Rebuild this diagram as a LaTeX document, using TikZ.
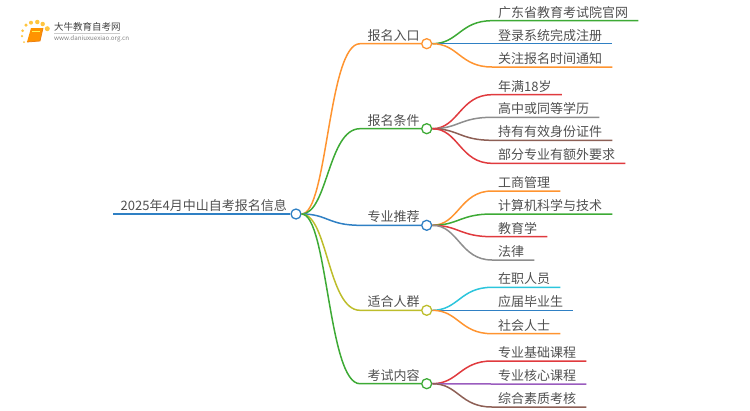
\documentclass[tikz,border=0pt]{standalone}
\usepackage{fontspec}
\setmainfont{Noto Sans CJK SC}
\definecolor{mapblue}{HTML}{2F80C4}
\definecolor{maporange}{HTML}{FF9430}
\definecolor{mapgreen}{HTML}{3DAA35}
\definecolor{mapred}{HTML}{E03A3E}
\definecolor{mapgray}{HTML}{8E8E8E}
\definecolor{mapbrown}{HTML}{8D5F55}
\definecolor{mapolive}{HTML}{BDBD2B}
\definecolor{mapcyan}{HTML}{2CC5DC}
\definecolor{mappurple}{HTML}{9A5CBE}
\definecolor{maptext}{HTML}{505050}
\tikzset{
  link/.style={line width=1.5pt},
  roottext/.style={anchor=south west,inner xsep=7.5pt,inner ysep=1.5pt,text height=11pt,text depth=2pt,font=\fontsize{13pt}{13pt}\selectfont,text=maptext},
  branchtext/.style={roottext},
  leaftext/.style={roottext,inner xsep=6pt,execute at end node={\kern4pt}},
  dot/.style={circle,draw,fill=white,line width=1.3pt,minimum size=10pt,inner sep=0pt},
  sun/.style={circle,fill=orange!60!yellow,opacity=0.75,inner sep=0pt},
}
\begin{document}
\begin{tikzpicture}[x=1pt,y=-1pt]
  % Constants
  \pgfmathsetmacro\c{26}
  \pgfmathsetmacro\d{32}
  \pgfmathsetmacro\m{426.7}
  \pgfmathsetmacro\n{492}
  % Boundary
  \path[use as bounding box] (0,0) rectangle (750,410);
  % Logo
  \fill[orange!85!yellow] (31,28) -- (43,28) -- (40,41) -- (27,42) -- cycle;
  \draw[orange!70!brown,line width=0.8pt] (27,42) -- (40,41) -- (43,28);
  \draw[yellow!70!white,line width=0.7pt] (32,31) -- (40,31);
  \node[sun,minimum size=2pt] (sun1) at (24,42) {};
  \node[sun,minimum size=2.5pt] (sun2) at (22,36) {};
  \node[sun,minimum size=3pt] (sun3) at (22.7,30.7) {};
  \node[sun,minimum size=3.5pt] (sun4) at (26,25) {};
  \node[sun,minimum size=4pt] (sun5) at (31,22.7) {};
  \node[sun,minimum size=4.5pt] (sun6) at (37.3,22) {};
  \node[sun,minimum size=4.5pt] (sun7) at (42.7,24) {};
  \node[sun,minimum size=5pt] (sun8) at (47.3,28.7) {};
  \node[anchor=west,inner sep=0pt,text=black!75,font=\fontsize{9.5pt}{9.5pt}\selectfont] (logoname) at (54,27) {大牛教育自考网};
  \node[anchor=west,inner sep=0pt,text=black!50,font=\fontsize{6.2pt}{6.2pt}\selectfont] (logourl) at (54,38.5) {www.daniuxuexiao.org.cn};
  \draw[black!20,line width=0.6pt] (logoname.south west) ++(0,1.5) -- ++(66,0);
  % Root
  \node[roottext] (root) at (113,214) {2025年4月中山自考报名信息};
  \node[dot,draw=mapblue] (rootdot) at (296,214) {};
  \draw[mapblue,link] (root.south west) -- (rootdot);
  % Branches
  \node[branchtext] (entry) at (360,43.7) {报名入口};
  \node[branchtext] (terms) at (360,128.7) {报名条件};
  \node[branchtext] (majors) at (360,225.3) {专业推荐};
  \node[branchtext] (people) at (360,310.3) {适合人群};
  \node[branchtext] (exam) at (360,383.7) {考试内容};
  \node[dot,draw=maporange] (entrydot) at (\m,43.7) {};
  \node[dot,draw=mapgreen] (termsdot) at (\m,128.7) {};
  \node[dot,draw=mapblue] (majorsdot) at (\m,225.3) {};
  \node[dot,draw=mapolive] (peopledot) at (\m,310.3) {};
  \node[dot,draw=mapgreen] (examdot) at (\m,383.7) {};
  \draw[maporange,link] (rootdot.east) .. controls +(\c,0) and +(-\d,0) .. (entry.south west) -- (entrydot);
  \draw[mapgreen,link] (rootdot.east) .. controls +(\c,0) and +(-\d,0) .. (terms.south west) -- (termsdot);
  \draw[mapblue,link] (rootdot.east) .. controls +(\c,0) and +(-\d,0) .. (majors.south west) -- (majorsdot);
  \draw[mapolive,link] (rootdot.east) .. controls +(\c,0) and +(-\d,0) .. (people.south west) -- (peopledot);
  \draw[mapgreen,link] (rootdot.east) .. controls +(\c,0) and +(-\d,0) .. (exam.south west) -- (examdot);
  % Leaves of the first branch
  \node[leaftext] (entry1) at (\n,20.7) {广东省教育考试院官网};
  \node[leaftext] (entry2) at (\n,43.7) {登录系统完成注册};
  \node[leaftext] (entry3) at (\n,67) {关注报名时间通知};
  \draw[mapgreen,link] (entrydot.east) .. controls +(\c,0) and +(-\d,0) .. (entry1.south west) -- (entry1.south east);
  \draw[mapblue,link] (entrydot.east) -- (entry2.south west) -- (entry2.south east);
  \draw[maporange,link] (entrydot.east) .. controls +(\c,0) and +(-\d,0) .. (entry3.south west) -- (entry3.south east);
  % Leaves of the second branch
  \node[leaftext] (terms1) at (\n,94.7) {年满18岁};
  \node[leaftext] (terms2) at (\n,117.3) {高中或同等学历};
  \node[leaftext] (terms3) at (\n,140.3) {持有有效身份证件};
  \node[leaftext] (terms4) at (\n,163.3) {部分专业有额外要求};
  \draw[mapred,link] (termsdot.east) .. controls +(\c,0) and +(-\d,0) .. (terms1.south west) -- (terms1.south east);
  \draw[mapgray,link] (termsdot.east) .. controls +(\c,0) and +(-\d,0) .. (terms2.south west) -- (terms2.south east);
  \draw[mapbrown,link] (termsdot.east) .. controls +(\c,0) and +(-\d,0) .. (terms3.south west) -- (terms3.south east);
  \draw[mapred,link] (termsdot.east) .. controls +(\c,0) and +(-\d,0) .. (terms4.south west) -- (terms4.south east);
  % Leaves of the third branch
  \node[leaftext] (majors1) at (\n,191) {工商管理};
  \node[leaftext] (majors2) at (\n,214) {计算机科学与技术};
  \node[leaftext] (majors3) at (\n,236.7) {教育学};
  \node[leaftext] (majors4) at (\n,260) {法律};
  \draw[maporange,link] (majorsdot.east) .. controls +(\c,0) and +(-\d,0) .. (majors1.south west) -- (majors1.south east);
  \draw[mapgreen,link] (majorsdot.east) .. controls +(\c,0) and +(-\d,0) .. (majors2.south west) -- (majors2.south east);
  \draw[mapred,link] (majorsdot.east) .. controls +(\c,0) and +(-\d,0) .. (majors3.south west) -- (majors3.south east);
  \draw[mapgray,link] (majorsdot.east) .. controls +(\c,0) and +(-\d,0) .. (majors4.south west) -- (majors4.south east);
  % Leaves of the fourth branch
  \node[leaftext] (people1) at (\n,287.3) {在职人员};
  \node[leaftext] (people2) at (\n,310.3) {应届毕业生};
  \node[leaftext] (people3) at (\n,333.7) {社会人士};
  \draw[mapcyan,link] (peopledot.east) .. controls +(\c,0) and +(-\d,0) .. (people1.south west) -- (people1.south east);
  \draw[mapblue,link] (peopledot.east) -- (people2.south west) -- (people2.south east);
  \draw[maporange,link] (peopledot.east) .. controls +(\c,0) and +(-\d,0) .. (people3.south west) -- (people3.south east);
  % Leaves of the fifth branch
  \node[leaftext] (exam1) at (\n,361) {专业基础课程};
  \node[leaftext] (exam2) at (\n,384) {专业核心课程};
  \node[leaftext] (exam3) at (\n,407) {综合素质考核};
  \draw[mapred,link] (examdot.east) .. controls +(\c,0) and +(-\d,0) .. (exam1.south west) -- (exam1.south east);
  \draw[mappurple,link] (examdot.east) -- (exam2.south west) -- (exam2.south east);
  \draw[mapbrown,link] (examdot.east) .. controls +(\c,0) and +(-\d,0) .. (exam3.south west) -- (exam3.south east);
\end{tikzpicture}
\end{document}
